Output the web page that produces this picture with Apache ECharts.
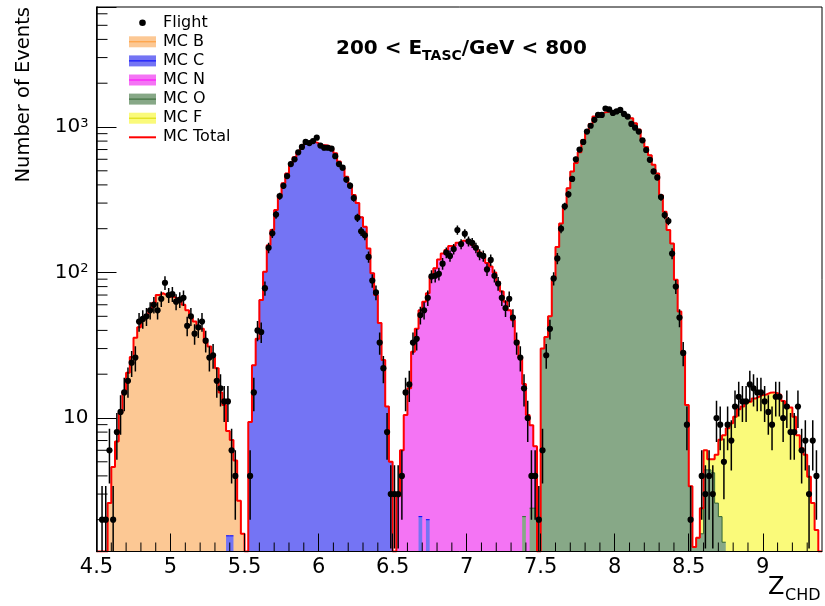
<!DOCTYPE html>
<html>
<head>
<meta charset="utf-8">
<script src="https://cdn.jsdelivr.net/npm/echarts/dist/echarts.min.js"></script>
<style>
html,body{margin:0;padding:0;background:#fff;}
#chart{width:825px;height:606px;}
</style>
</head>
<body>
<div id="chart"></div>
<script>
// ---------------- data ----------------
const BIN_START = 4.5;
const BIN_WIDTH = 0.025;
const N_BINS = 196;
const X_MIN = 4.5, X_MAX = 9.4;
const Y_MIN = 1.209, Y_MAX = 6680;

const xTickValues = [4.5, 5, 5.5, 6, 6.5, 7, 7.5, 8, 8.5, 9];
const xTickLabels = ['4.5', '5', '5.5', '6', '6.5', '7', '7.5', '8', '8.5', '9'];
const yTickValues = [10, 100, 1000];
const yTickBase = ['10', '10', '10'];
const yTickExp = ['', '2', '3'];

// Flight counts per bin (bin i covers 4.5 + 0.025*i ... +0.025)
const flightCounts = [
  0,2,2,6,2,8,11,15,18,24, 26,46,48,50,55,60,55,66,85,70, 71,63,65,67,43,50,38,42,46,34, 26,27,18,16,13,13,6,4,0,0,
  0,4,15,40,39,78,148,186,250,335, 394,460,556,600,670,730,790,775,800,845, 745,720,720,710,630,556,525,435,395,325, 238,192,180,128,88,73,33,22,8,3,
  3,3,4,15,17,33,35,51,55,67, 94,95,98,115,137,130,145,196,157,185, 164,160,148,133,130,105,122,95,84,67, 57,66,49,33,26,16,10,4,4,2,
  6,27,41,91,125,200,285,345,440,600, 700,790,930,1020,1120,1210,1210,1340,1320,1250, 1280,1310,1230,1180,1050,990,930,810,695,595, 495,450,330,248,226,135,80,49,28,9,
  2,0,0,4,3,4,3,10,9,5, 9,7,12,14,13,13,17,16,15,15, 13,11,9,14,14,10,12,8,8,12, 6,7,3,7,4,0
];

// MC species: first bin index + values per bin
const mcBStart = 3;
const mcBValues = [2.6,4.6,6.9,10.9,15.2,20.5,26.3,35.6,42,47,51,56,62,70,72,70,68,68,66,64,60,55,49,46,43,41,33,31,26,22,15,12.3,6.6,5.5,5.1,2.7,1.6];

const mcCStart = 35;
const mcCValues = [1.55,1.55,0,0,0,0,
  9.4,23,35,64.7,101,154,196,269,341,410,480,560,620,670,735,775,790,790,775,750,750,740,710,660,580,520,455,400,341,300,240,206,146,99,70,45,25,12,5,
  0,0,0,0,0,0,0,2.1,0,2.0];

const mcNStart = 81;
const mcNValues = [2.9,6,10.5,16,28.5,41,53,63,70,94,107,123,135,143,152,152,160,165,165,160,155,145,137,128,116,110,100,86,74,63,55,47,34,26,15,10.5,6.5,4];

const mcOStart = 115;
const mcOValues = [2.1,0,2.4,2.4,0,
  30,36,50,91,150,217,285,380,495,565,670,815,940,1050,1180,1230,1250,1270,1280,1290,1280,1260,1230,1190,1150,1060,960,815,730,640,550,480,340,262,196,158,89,54,28,12.3,
  3.4,1.3,1.5,1.6,4.4,4.4,4.2,2.6,2.1,1.4];

const mcFStart = 163;
const mcFValues = [0.8,1.6,0.8,1.0,3.0,5.0,6.2,8.5,9.2,10.2,11.5,12,12.8,13,13.6,14,14.4,14.5,14.9,15,14.8,14.4,13.1,12.2,11.8,10.2,7.6,6.2,5.6,3.95,2.6,1.7];

const legendLabels = ['Flight', 'MC B', 'MC C', 'MC N', 'MC O', 'MC F', 'MC Total'];

// ---------------- styles ----------------
const FONT = 'DejaVu Sans';
const species = {
  'MC B': {start: mcBStart, values: mcBValues, fill: '#fcc894', line: '#ff9933'},
  'MC C': {start: mcCStart, values: mcCValues, fill: '#7474f4', line: '#0000ff'},
  'MC N': {start: mcNStart, values: mcNValues, fill: '#f474f4', line: '#ff00ff'},
  'MC O': {start: mcOStart, values: mcOValues, fill: '#87a887', line: '#336633'},
  'MC F': {start: mcFStart, values: mcFValues, fill: '#fafa7a', line: '#d8d800'}
};
// stacking order (bottom -> top), as in the stacked MC histogram
const stackOrder = ['MC C', 'MC O', 'MC N', 'MC B', 'MC F'];
const drawOrder = ['MC F', 'MC B', 'MC N', 'MC O', 'MC C'];

// ---------------- helpers ----------------
function edge(i) { return +(BIN_START + i * BIN_WIDTH).toFixed(4); }
function expand(start, values) {
  const a = new Array(N_BINS).fill(0);
  values.forEach((v, k) => { a[start + k] = v; });
  return a;
}
const own = {};
Object.keys(species).forEach(k => { own[k] = expand(species[k].start, species[k].values); });
const cum = {};
let running = new Array(N_BINS).fill(0);
stackOrder.forEach(k => {
  running = running.map((r, i) => r + own[k][i]);
  cum[k] = running.slice();
});
const total = running;

function runsPoints(ownArr, heightArr) {
  const pts = [];
  let i = 0;
  while (i < N_BINS) {
    if (ownArr[i] > 0) {
      let j = i;
      while (j < N_BINS && ownArr[j] > 0) { pts.push([edge(j), heightArr[j]]); j++; }
      pts.push([edge(j), heightArr[j - 1]]);
      pts.push([edge(j), '-']);
      i = j;
    } else i++;
  }
  return pts;
}

const series = [];
drawOrder.forEach(k => {
  series.push({
    type: 'line', name: k, step: 'end', symbol: 'none', showSymbol: false,
    connectNulls: false, silent: true, z: 2,
    data: runsPoints(own[k], cum[k]),
    lineStyle: {color: species[k].line, width: 1},
    itemStyle: {color: species[k].fill},
    areaStyle: {color: species[k].fill, opacity: 1, origin: 'start'}
  });
});

// MC total (red outline)
const totalPts = [];
for (let i = 0; i < N_BINS; i++) totalPts.push([edge(i), Math.max(total[i], Y_MIN)]);
totalPts.push([edge(N_BINS), Math.max(total[N_BINS - 1], Y_MIN)]);
series.push({
  type: 'line', name: 'MC Total', step: 'end', symbol: 'none', showSymbol: false,
  silent: true, z: 3, data: totalPts,
  lineStyle: {color: '#ff0000', width: 2}
});

// Flight points with Poisson error bars
const flightData = [];
flightCounts.forEach((c, i) => {
  if (c > 0) flightData.push([(edge(i) + edge(i + 1)) / 2, c, edge(i), edge(i + 1)]);
});
series.push({
  type: 'custom', name: 'Flight', z: 4, silent: true, clip: true,
  encode: {x: 0, y: 1},
  data: flightData,
  renderItem(params, api) {
    const xc = api.value(0), v = api.value(1), lo = api.value(2), hi = api.value(3);
    const e = Math.sqrt(v);
    const cs = params.coordSys;
    const bottom = cs.y + cs.height;
    const p = api.coord([xc, v]);
    const pl = api.coord([lo, v]);
    const ph = api.coord([hi, v]);
    const yTop = api.coord([xc, v + e])[1];
    const lowV = v - e;
    const yBot = lowV > 0 ? Math.min(api.coord([xc, lowV])[1], bottom) : bottom;
    return {type: 'group', children: [
      {type: 'line', shape: {x1: pl[0], y1: p[1], x2: ph[0], y2: p[1]}, style: {stroke: '#000', lineWidth: 1.5}},
      {type: 'line', shape: {x1: p[0], y1: yTop, x2: p[0], y2: yBot}, style: {stroke: '#000', lineWidth: 1.5}},
      {type: 'circle', shape: {cx: p[0], cy: p[1], r: 3.1}, style: {fill: '#000'}}
    ]};
  }
});

// minor ticks (ROOT style: inside, shorter than the major ticks)
const xMinor = [];
for (let k = 46; k <= 93; k++) if (k % 5 !== 0) xMinor.push(k / 10);
const yMinor = [];
[1, 10, 100, 1000].forEach(d => { for (let m = 2; m <= 9; m++) { const v = m * d; if (v > Y_MIN && v < Y_MAX) yMinor.push(v); } });
series.push({
  type: 'custom', silent: true, z: 6, clip: false,
  encode: {x: 0, y: 1},
  data: xMinor.map(v => [v, 10]),
  renderItem(params, api) {
    const cs = params.coordSys;
    const x = api.coord([api.value(0), 10])[0];
    const b = cs.y + cs.height;
    return {type: 'line', shape: {x1: x, y1: b, x2: x, y2: b - 9}, style: {stroke: '#000', lineWidth: 1}};
  }
});
series.push({
  type: 'custom', silent: true, z: 6, clip: false,
  encode: {x: 0, y: 1},
  data: yMinor.map(v => [X_MIN, v]),
  renderItem(params, api) {
    const cs = params.coordSys;
    const y = api.coord([X_MIN, api.value(1)])[1];
    return {type: 'line', shape: {x1: cs.x, y1: y, x2: cs.x + 11, y2: y}, style: {stroke: '#000', lineWidth: 1}};
  }
});

// ---------------- graphic: title, legend, axis titles ----------------
const mctx = document.createElement('canvas').getContext('2d');
function tw(font, s) { mctx.font = font; return mctx.measureText(s).width; }

const graphics = [];
// title 200 < E_TASC/GeV < 800
const tx0 = 336;
const t1 = '200 < E', tsub = 'TASC', t2 = '/GeV < 800';
const w1 = tw('bold 20px "' + FONT + '"', t1);
const ws = tw('bold 14px "' + FONT + '"', tsub);
graphics.push({type: 'text', x: tx0, y: 48.5, style: {text: t1, fontFamily: FONT, fontWeight: 'bold', fontSize: 20, fill: '#000', align: 'left', verticalAlign: 'middle'}});
graphics.push({type: 'text', x: tx0 + w1, y: 56, style: {text: tsub, fontFamily: FONT, fontWeight: 'bold', fontSize: 14, fill: '#000', align: 'left', verticalAlign: 'middle'}});
graphics.push({type: 'text', x: tx0 + w1 + ws, y: 48.5, style: {text: t2, fontFamily: FONT, fontWeight: 'bold', fontSize: 20, fill: '#000', align: 'left', verticalAlign: 'middle'}});

// legend
const legX0 = 129, legW = 27, legH = 11, legTextX = 163, legY0 = 22.7, legDy = 19.1;
legendLabels.forEach((name, k) => {
  const cy = legY0 + k * legDy;
  if (name === 'Flight') {
    graphics.push({type: 'circle', shape: {cx: legX0 + legW / 2, cy: cy, r: 3.3}, style: {fill: '#000'}});
  } else if (name === 'MC Total') {
    graphics.push({type: 'line', shape: {x1: legX0, y1: cy, x2: legX0 + legW, y2: cy}, style: {stroke: '#ff0000', lineWidth: 2}});
  } else {
    graphics.push({type: 'rect', shape: {x: legX0, y: cy - legH / 2, width: legW, height: legH}, style: {fill: species[name].fill}});
    graphics.push({type: 'line', shape: {x1: legX0, y1: cy, x2: legX0 + legW, y2: cy}, style: {stroke: species[name].line, lineWidth: 1}});
  }
  graphics.push({type: 'text', x: legTextX, y: cy, style: {text: name, fontFamily: FONT, fontSize: 16, fill: '#000', align: 'left', verticalAlign: 'middle'}});
});

// axis titles
graphics.push({type: 'text', x: 23.5, y: 7, rotation: Math.PI / 2,
  style: {text: 'Number of Events', fontFamily: FONT, fontSize: 19.5, fill: '#000', align: 'right', verticalAlign: 'middle'}});
graphics.push({type: 'text', x: 768, y: 588, style: {text: 'Z', fontFamily: FONT, fontSize: 24, fill: '#000', align: 'left', verticalAlign: 'middle'}});
graphics.push({type: 'text', x: 785, y: 596, style: {text: 'CHD', fontFamily: FONT, fontSize: 16, fill: '#000', align: 'left', verticalAlign: 'middle'}});

// ---------------- chart ----------------
const chart = echarts.init(document.getElementById('chart'), null, {renderer: 'canvas'});
chart.setOption({
  animation: false,
  backgroundColor: '#ffffff',
  grid: {left: 96.5, right: 3, top: 7, bottom: 54.5, show: true, borderColor: '#000', borderWidth: 1, backgroundColor: 'transparent'},
  xAxis: {
    type: 'value', min: X_MIN, max: X_MAX, interval: 0.5, z: 6,
    axisLine: {show: true, onZero: false, lineStyle: {color: '#000', width: 1}},
    axisTick: {show: true, inside: true, length: 18, lineStyle: {color: '#000', width: 1}},
    splitLine: {show: false},
    axisLabel: {
      margin: 6, color: '#000', fontFamily: FONT, fontSize: 21, showMaxLabel: false,
      formatter: (v) => { const k = xTickValues.findIndex(t => Math.abs(t - v) < 1e-6); return k >= 0 ? xTickLabels[k] : ''; }
    }
  },
  yAxis: {
    type: 'log', logBase: 10, min: Y_MIN, max: Y_MAX, z: 6,
    axisLine: {show: true, onZero: false, lineStyle: {color: '#000', width: 1.5}},
    axisTick: {show: true, inside: true, length: 20, lineStyle: {color: '#000', width: 1}},
    splitLine: {show: false},
    axisLabel: {
      margin: 8, color: '#000',
      formatter: (v) => {
        const k = yTickValues.findIndex(t => Math.abs(t - v) / t < 1e-6);
        if (k < 0) return '';
        return yTickExp[k] ? '{b|' + yTickBase[k] + '}{s|' + yTickExp[k] + '}' : '{b|' + yTickBase[k] + '}';
      },
      rich: {
        b: {fontFamily: FONT, fontSize: 20, color: '#000'},
        s: {fontFamily: FONT, fontSize: 13, color: '#000', verticalAlign: 'top'}
      }
    }
  },
  graphic: {elements: graphics},
  series: series
});
</script>
</body>
</html>
